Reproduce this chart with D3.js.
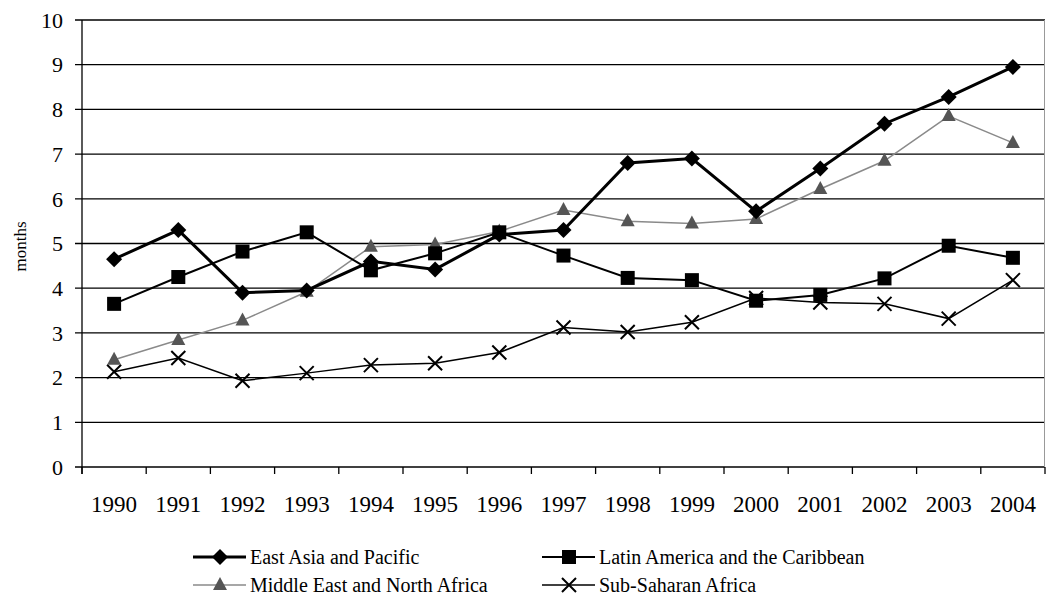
<!DOCTYPE html>
<html>
<head>
<meta charset="utf-8">
<script src="https://cdn.jsdelivr.net/npm/d3@7"></script>
<style>
  body { margin: 0; background: #fff; }
  svg text { font-family: "Liberation Serif", "Times New Roman", Times, "DejaVu Serif", serif; }
</style>
</head>
<body>
<div id="chart"></div>
<script>
var years = ["1990", "1991", "1992", "1993", "1994", "1995", "1996", "1997", "1998", "1999", "2000", "2001", "2002", "2003", "2004"];
var eastAsia = [4.65, 5.3, 3.9, 3.95, 4.6, 4.42, 5.2, 5.3, 6.8, 6.9, 5.72, 6.68, 7.68, 8.28, 8.95];
var latinAmerica = [3.65, 4.25, 4.82, 5.25, 4.4, 4.78, 5.25, 4.73, 4.23, 4.18, 3.72, 3.85, 4.22, 4.95, 4.68];
var middleEast = [2.4, 2.84, 3.28, 3.92, 4.93, 4.98, 5.27, 5.75, 5.5, 5.45, 5.55, 6.22, 6.85, 7.85, 7.25];
var subSaharan = [2.13, 2.44, 1.93, 2.1, 2.28, 2.32, 2.56, 3.12, 3.02, 3.24, 3.78, 3.68, 3.65, 3.32, 4.18];
var yTicks = [0, 1, 2, 3, 4, 5, 6, 7, 8, 9, 10];

var seriesList = [
    {name: "East Asia and Pacific", values: eastAsia, marker: "diamond", stroke: "#000", width: 3, fill: "#000"},
    {name: "Latin America and the Caribbean", values: latinAmerica, marker: "square", stroke: "#000", width: 2, fill: "#000"},
    {name: "Middle East and North Africa", values: middleEast, marker: "triangle", stroke: "#8a8a8a", width: 1.5, fill: "#555"},
    {name: "Sub-Saharan Africa", values: subSaharan, marker: "cross", stroke: "#000", width: 1.5, fill: "none"}
];

var W = 1046, H = 600;
var plot = {left: 82, right: 1045, top: 20, bottom: 467};

var svg = d3.select("#chart").append("svg")
    .attr("width", W)
    .attr("height", H)
    .attr("font-family", "'Liberation Serif', 'Times New Roman', serif");

var x = d3.scaleBand().domain(years).range([plot.left, plot.right]);
var y = d3.scaleLinear().domain([0, 10]).range([plot.bottom, plot.top]);

function cx(year) { return x(year) + x.bandwidth() / 2; }

// gridlines
svg.append("g").selectAll("line")
    .data(yTicks)
    .enter().append("line")
    .attr("x1", plot.left - 7)
    .attr("x2", plot.right)
    .attr("y1", function (d) { return y(d); })
    .attr("y2", function (d) { return y(d); })
    .attr("stroke", "#000")
    .attr("stroke-width", 1.3);

// left axis line and right border
svg.append("line")
    .attr("x1", plot.left).attr("x2", plot.left)
    .attr("y1", plot.top).attr("y2", plot.bottom + 7)
    .attr("stroke", "#000").attr("stroke-width", 1.3);
svg.append("line")
    .attr("x1", plot.right - 0.5).attr("x2", plot.right - 0.5)
    .attr("y1", plot.top).attr("y2", plot.bottom)
    .attr("stroke", "#999").attr("stroke-width", 1);

// y tick labels
svg.append("g").selectAll("text")
    .data(yTicks)
    .enter().append("text")
    .attr("x", 63)
    .attr("y", function (d) { return y(d); })
    .attr("dy", "0.35em")
    .attr("text-anchor", "end")
    .attr("font-size", 22)
    .text(function (d) { return d; });

// x axis ticks (category boundaries)
var bounds = years.map(function (d) { return x(d); }).concat([plot.right]);
svg.append("g").selectAll("line")
    .data(bounds)
    .enter().append("line")
    .attr("x1", function (d) { return d; })
    .attr("x2", function (d) { return d; })
    .attr("y1", plot.bottom)
    .attr("y2", plot.bottom + 7)
    .attr("stroke", "#000")
    .attr("stroke-width", 1.3);

svg.append("g").selectAll("text")
    .data(years)
    .enter().append("text")
    .attr("x", function (d) { return cx(d); })
    .attr("y", 504)
    .attr("dy", "0.35em")
    .attr("text-anchor", "middle")
    .attr("font-size", 23)
    .text(function (d) { return d; });

// y axis title
svg.append("text")
    .attr("transform", "translate(20," + ((plot.top + plot.bottom) / 2 + 3) + ") rotate(-90)")
    .attr("text-anchor", "middle")
    .attr("dy", "0.35em")
    .attr("font-size", 17)
    .text("months");

function drawMarker(g, type, px, py, s) {
    if (type === "diamond") {
        g.append("path")
            .attr("d", "M" + px + "," + (py - 8) + "L" + (px + 8) + "," + py + "L" + px + "," + (py + 8) + "L" + (px - 8) + "," + py + "Z")
            .attr("fill", s.fill);
    } else if (type === "square") {
        g.append("rect")
            .attr("x", px - 7).attr("y", py - 7)
            .attr("width", 14).attr("height", 14)
            .attr("fill", s.fill);
    } else if (type === "triangle") {
        g.append("path")
            .attr("d", "M" + px + "," + (py - 8) + "L" + (px + 7) + "," + (py + 5) + "L" + (px - 7) + "," + (py + 5) + "Z")
            .attr("fill", s.fill);
    } else {
        g.append("path")
            .attr("d", "M" + (px - 7) + "," + (py - 7) + "L" + (px + 7) + "," + (py + 7) + "M" + (px + 7) + "," + (py - 7) + "L" + (px - 7) + "," + (py + 7))
            .attr("stroke", "#000")
            .attr("stroke-width", 2)
            .attr("fill", "none");
    }
}

var line = d3.line()
    .x(function (d) { return cx(d.year); })
    .y(function (d) { return y(d.value); });

// draw series (bottom first so East Asia sits on top)
seriesList.slice().reverse().forEach(function (s) {
    var pts = s.values.map(function (v, i) { return {year: years[i], value: v}; });
    var g = svg.append("g");
    g.append("path")
        .datum(pts)
        .attr("d", line)
        .attr("fill", "none")
        .attr("stroke", s.stroke)
        .attr("stroke-width", s.width);
    pts.forEach(function (p) {
        drawMarker(g, s.marker, cx(p.year), y(p.value), s);
    });
});

// legend
var legendPos = [
    {x: 193, y: 557},
    {x: 542, y: 557},
    {x: 193, y: 585},
    {x: 542, y: 585}
];
seriesList.forEach(function (s, i) {
    var pos = legendPos[i];
    var g = svg.append("g");
    g.append("line")
        .attr("x1", pos.x).attr("x2", pos.x + 53)
        .attr("y1", pos.y).attr("y2", pos.y)
        .attr("stroke", s.stroke)
        .attr("stroke-width", s.width);
    drawMarker(g, s.marker, pos.x + 27, pos.y, s);
    g.append("text")
        .attr("x", pos.x + 57)
        .attr("y", pos.y)
        .attr("dy", "0.35em")
        .attr("font-size", 20)
        .text(s.name);
});
</script>
</body>
</html>
